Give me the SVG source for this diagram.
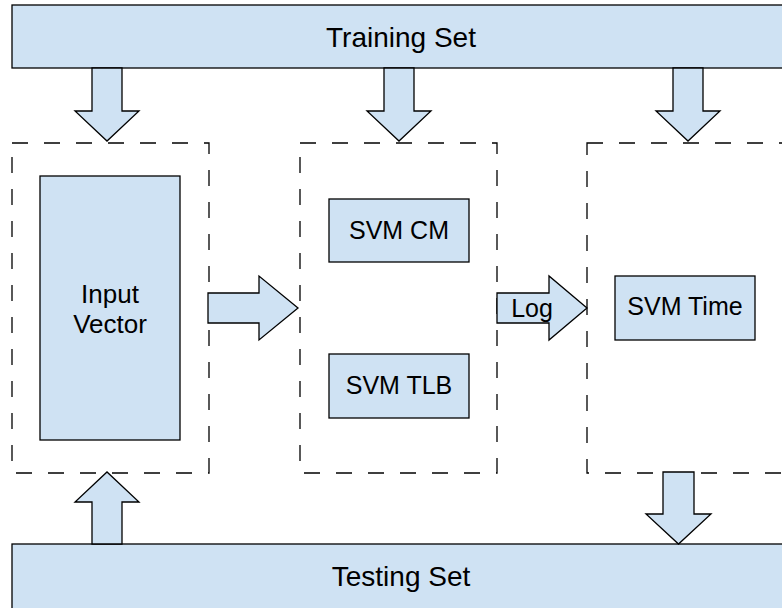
<svg xmlns="http://www.w3.org/2000/svg" width="782" height="608" viewBox="0 0 782 608">
<style>
.box{fill:#cfe2f3;stroke:#000;stroke-width:1.3}
.grp{fill:none;stroke:#000;stroke-width:1.3;stroke-dasharray:16 16}
.arr{fill:#cfe2f3;stroke:#000;stroke-width:1.3;stroke-linejoin:miter}
text{font-family:"Liberation Sans",Arial,sans-serif;fill:#000;text-anchor:middle}
.big{font-size:28px}
.mid{font-size:25px}
.in{font-size:26px}
</style>
<rect width="782" height="608" fill="#fff"/>
<g id="group1"><rect class="grp" x="12" y="143" width="197" height="330"/></g>
<g id="group2"><rect class="grp" x="300" y="143" width="197" height="330"/></g>
<g id="group3"><rect class="grp" x="587" y="143" width="220" height="330"/></g>
<g id="training"><rect class="box" x="12" y="5" width="790" height="63"/><text class="big" x="401" y="47">Training Set</text></g>
<g id="testing"><rect class="box" x="12" y="544" width="790" height="70"/><text class="big" x="401" y="586">Testing Set</text></g>
<g id="input"><rect class="box" x="40" y="176" width="140" height="264"/><text class="in" x="110" y="303">Input</text><text class="in" x="110" y="333">Vector</text></g>
<g id="svmcm"><rect class="box" x="329" y="199" width="140" height="63"/><text class="mid" x="399" y="239">SVM CM</text></g>
<g id="svmtlb"><rect class="box" x="329" y="354" width="140" height="64"/><text class="mid" x="399" y="394">SVM TLB</text></g>
<g id="svmtime"><rect class="box" x="615" y="276" width="140" height="64"/><text class="mid" x="685" y="315">SVM Time</text></g>
<g id="connectors">
<polygon class="arr" points="92,68 122,68 122,111 139,111 107,141 75,111 92,111"/>
<polygon class="arr" points="384,68 414,68 414,111 431,111 399,141 367,111 384,111"/>
<polygon class="arr" points="673,68 703,68 703,111 720,111 688,141 656,111 673,111"/>
<polygon class="arr" points="92,544 122,544 122,502 139,502 107,472 75,502 92,502"/>
<polygon class="arr" points="663,472 694,472 694,514 711,514 678.5,544 646,514 663,514"/>
<polygon class="arr" points="208,293 259,293 259,276 298,308 259,340 259,323 208,323"/>
<polygon class="arr" points="497,293 549,293 549,276 587,308 549,340 549,323 497,323"/>
<text class="mid" x="532" y="317">Log</text>
</g>
</svg>
